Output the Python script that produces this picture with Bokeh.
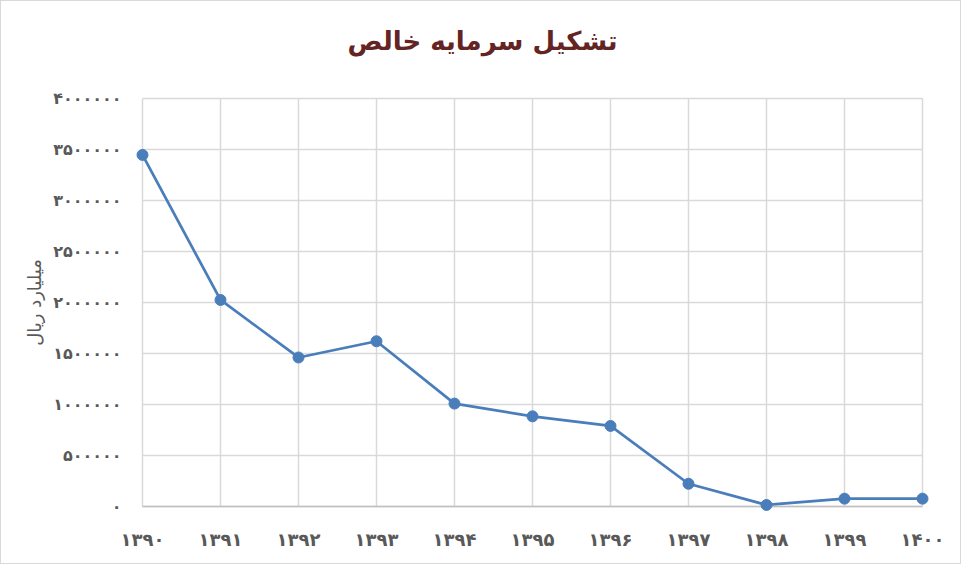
from bokeh.plotting import figure
from bokeh.models import Range1d, FixedTicker, ColumnDataSource, Title
from bokeh.embed import file_html
from bokeh.resources import INLINE

years = [1390, 1391, 1392, 1393, 1394, 1395, 1396, 1397, 1398, 1399, 1400]
values = [3447000, 2025000, 1461000, 1620000, 1009000, 884000, 790000, 223000, 15000, 77000, 77000]
y_ticks = [0, 500000, 1000000, 1500000, 2000000, 2500000, 3000000, 3500000, 4000000]
title_text = "تشکیل سرمایه خالص"
y_label = "میلیارد ریال"

fa = str.maketrans("0123456789", "۰۱۲۳۴۵۶۷۸۹")
x_labels = {y: str(y).translate(fa) for y in years}
y_labels = {t: str(t).translate(fa) for t in y_ticks}

FONT = "DejaVu Sans"
W, H = 961, 564
BL, BR, BT, BB = 133, 32, 89, 51
FW, FH = W - BL - BR, H - BT - BB
xmin, xmax = years[0], years[-1]
ymin, ymax = y_ticks[0], y_ticks[-1]
xpad = 8 * (xmax - xmin) / (FW - 16)
ypad = 8 * (ymax - ymin) / (FH - 16)
x0, x1 = xmin - xpad, xmax + xpad
y0, y1 = ymin - ypad, ymax + ypad

p = figure(width=W, height=H, output_backend="svg", toolbar_location=None,
           x_range=Range1d(x0, x1), y_range=Range1d(y0, y1),
           min_border_left=BL, min_border_right=BR, min_border_top=BT, min_border_bottom=BB)
p.styles = {"border": "1px solid #d9d9d9"}
p.outline_line_color = None
p.background_fill_color = "white"
p.border_fill_color = "white"
p.xgrid.visible = False
p.ygrid.visible = False

p.xaxis.ticker = FixedTicker(ticks=years)
p.xaxis.major_label_overrides = x_labels
p.yaxis.ticker = FixedTicker(ticks=y_ticks)
p.yaxis.major_label_overrides = y_labels
for ax in (p.xaxis, p.yaxis):
    ax.axis_line_color = None
    ax.major_tick_line_color = None
    ax.minor_tick_line_color = None
    ax.major_label_text_font = FONT
    ax.major_label_text_font_size = "16px"
    ax.major_label_text_font_style = "bold"
    ax.major_label_text_color = "#595959"
p.xaxis.major_label_text_font_size = "18px"
p.xaxis.major_label_standoff = 8
p.yaxis.major_label_standoff = 7
p.yaxis.axis_label = y_label
p.yaxis.axis_label_text_font = FONT
p.yaxis.axis_label_text_font_size = "18px"
p.yaxis.axis_label_text_font_style = "normal"
p.yaxis.axis_label_text_color = "#595959"
p.yaxis.axis_label_standoff = 5

# gridlines
p.segment(x0=years, x1=years, y0=[ymin] * len(years), y1=[ymax] * len(years),
          line_color="#d9d9d9", line_width=1.5)
p.segment(x0=[xmin] * len(y_ticks), x1=[xmax] * len(y_ticks), y0=y_ticks, y1=y_ticks,
          line_color="#d9d9d9", line_width=1.5)
p.segment(x0=[xmin], x1=[xmax], y0=[ymin], y1=[ymin], line_color="#bfbfbf", line_width=1.5)

src = ColumnDataSource(dict(x=years, y=values))
p.line("x", "y", source=src, line_color="#4a7ebb", line_width=2.75)
p.scatter("x", "y", source=src, size=11, fill_color="#4a7ebb", line_color="#4a7ebb")

# spacer between frame and title, then the title centred over the whole chart
p.add_layout(Title(text=" ", text_font_size="20px", standoff=5), "above")
p.add_layout(Title(text=title_text, align="left", offset=213, vertical_align="middle",
                   text_font=FONT, text_font_size="26px", text_font_style="bold",
                   text_color="#632423"), "above")

open("out.html", "w").write(file_html(p, INLINE))
